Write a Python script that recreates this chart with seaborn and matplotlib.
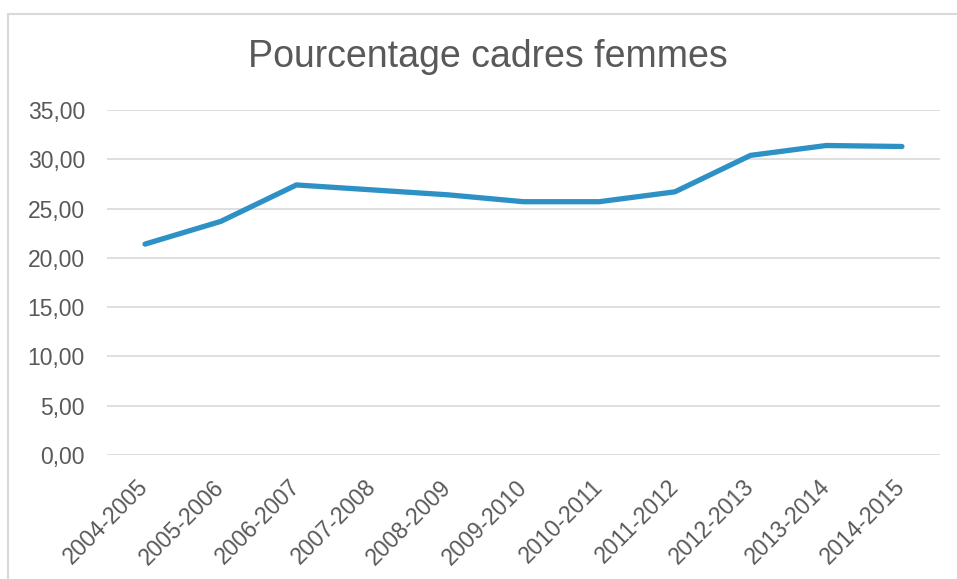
import pandas as pd
import matplotlib
matplotlib.use('Agg')
import matplotlib.pyplot as plt
import matplotlib.patches as patches
import seaborn as sns

# données : pourcentage de cadres femmes par année universitaire
annees = ['2004-2005', '2005-2006', '2006-2007', '2007-2008', '2008-2009',
          '2009-2010', '2010-2011', '2011-2012', '2012-2013', '2013-2014',
          '2014-2015']
pourcentages = [21.4, 23.7, 27.4, 26.9, 26.4, 25.7, 25.7, 26.7, 30.4, 31.4, 31.3]
yticks = [0, 5, 10, 15, 20, 25, 30, 35]

df = pd.DataFrame({'annee': annees, 'pct': pourcentages})

sns.set_style('white')
plt.rcParams['font.family'] = ['Liberation Sans', 'DejaVu Sans']

gris = '#595959'
fig = plt.figure(figsize=(9.57, 5.79), dpi=100)
ax = fig.add_axes([0.112, 0.214, 0.870, 0.596])

sns.lineplot(data=df, x='annee', y='pct', sort=False, ax=ax,
             color='#2E91C5', linewidth=3.8, solid_capstyle='round',
             solid_joinstyle='miter')

ax.set_xlim(-0.5, len(annees) - 0.5)
ax.set_ylim(0, 35)
ax.set_yticks(yticks)
ax.set_yticklabels([f'{v:.2f}'.replace('.', ',') for v in yticks],
                   fontsize=16.5, color=gris)
ax.set_xticks(range(len(annees)))
ax.set_xticklabels(annees, rotation=45, ha='right', va='center',
                   rotation_mode='anchor', fontsize=16.5, color=gris)
ax.tick_params(axis='both', length=0)
ax.tick_params(axis='y', pad=16)
ax.tick_params(axis='x', pad=20.5)
ax.yaxis.grid(True, color='#D9D9D9', linewidth=1.2)
ax.set_axisbelow(True)
ax.set_xlabel('')
ax.set_ylabel('')
sns.despine(ax=ax, left=True, bottom=True)

fig.text(0.51, 0.902, 'Pourcentage cadres femmes', ha='center', va='center',
         fontsize=27, color=gris)

# cadre du graphique
fig.patches.append(patches.Rectangle((0.0084, -0.1), 1.2, 1.076,
                                     transform=fig.transFigure, fill=False,
                                     edgecolor='#D9D9D9', linewidth=1.5))

fig.savefig('out.png', dpi=100)
